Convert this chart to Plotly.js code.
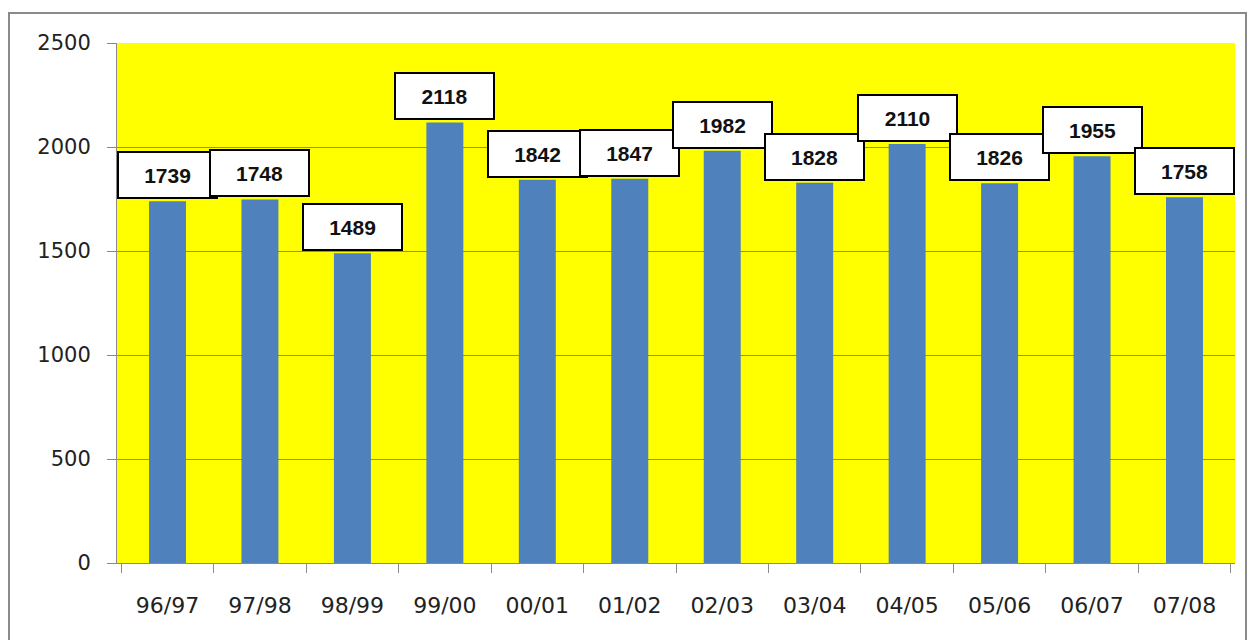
<!DOCTYPE html>
<html>
<head>
<meta charset="utf-8">
<script src="https://cdn.plot.ly/plotly-3.0.1.min.js"></script>
<style>
  html, body { margin: 0; padding: 0; background: #ffffff; overflow: hidden; }
  #chart { position: absolute; left: 0; top: 0; width: 1253px; height: 640px; }
  #frame { position: absolute; left: 8px; top: 12px; width: 1235px; height: 700px;
           border: 2px solid #8a8a8a; pointer-events: none; }
</style>
</head>
<body>
<div id="chart"></div>
<div id="frame"></div>
<script>
// Seasons on the x axis
const categories = ["96/97", "97/98", "98/99", "99/00", "00/01", "01/02",
                    "02/03", "03/04", "04/05", "05/06", "06/07", "07/08"];
// Bar heights as drawn in the picture
const barValues = [1739, 1748, 1489, 2118, 1842, 1847, 1982, 1828, 2015, 1826, 1955, 1758];
// Data label texts as printed in the boxes
const labelTexts = ["1739", "1748", "1489", "2118", "1842", "1847",
                    "1982", "1828", "2110", "1826", "1955", "1758"];
// Y axis ticks
const yTicks = [0, 500, 1000, 1500, 2000, 2500];

const trace = {
  type: "bar",
  x: categories,
  y: barValues,
  marker: { color: "#4F81BD", line: { width: 0 } },
  hoverinfo: "x+y"
};

const annotations = categories.map((c, i) => ({
  x: c,
  y: barValues[i],
  xref: "x",
  yref: "y",
  text: "<b>" + labelTexts[i] + "</b>",
  showarrow: false,
  yanchor: "bottom",
  xanchor: "center",
  yshift: 2,
  width: 97,
  height: 44,
  bgcolor: "#ffffff",
  bordercolor: "#000000",
  borderwidth: 2,
  borderpad: 0,
  font: { family: "Liberation Sans, Arial, sans-serif", size: 21, color: "#111111" }
}));

const layout = {
  width: 1253,
  height: 640,
  margin: { l: 117, r: 18, t: 43, b: 77 },
  paper_bgcolor: "rgba(0,0,0,0)",
  plot_bgcolor: "#FFFF00",
  showlegend: false,
  bargap: 0.6,
  font: { family: "DejaVu Sans, Verdana, sans-serif", size: 21, color: "#222222" },
  xaxis: {
    type: "category",
    tickson: "boundaries",
    ticks: "outside",
    ticklen: 9,
    tickwidth: 1,
    tickcolor: "#8a8a8a",
    showline: true,
    linecolor: "#8a8a8a",
    linewidth: 1,
    showgrid: false,
    ticklabelstandoff: 23,
    tickfont: { family: "DejaVu Sans, Verdana, sans-serif", size: 22, color: "#222222" }
  },
  yaxis: {
    range: [0, 2500],
    tickvals: yTicks,
    ticktext: yTicks.map(String),
    ticks: "outside",
    ticklen: 9,
    tickwidth: 1,
    tickcolor: "#8a8a8a",
    showline: true,
    linecolor: "#8a8a8a",
    linewidth: 1,
    showgrid: true,
    gridcolor: "#8a8a8a",
    gridwidth: 1,
    zeroline: false,
    ticklabelstandoff: 12,
    tickfont: { family: "DejaVu Sans, Verdana, sans-serif", size: 21, color: "#222222" }
  },
  annotations: annotations
};

Plotly.newPlot("chart", [trace], layout, { displayModeBar: false, staticPlot: true });
</script>
</body>
</html>
